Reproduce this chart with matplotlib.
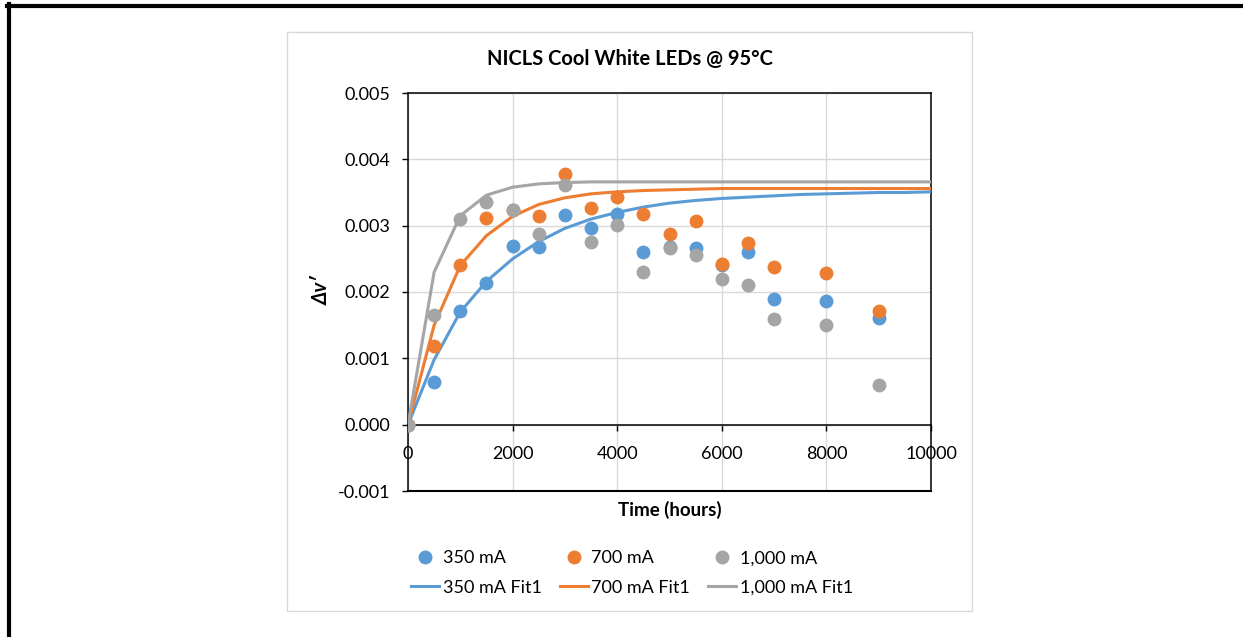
import matplotlib.pyplot as plt
from matplotlib.lines import Line2D
from matplotlib.patches import Rectangle

plt.rcParams['font.family'] = ['Lato', 'DejaVu Sans']
plt.rcParams['axes.unicode_minus'] = False

# measured data (hours, delta v')
hours = [0, 500, 1000, 1500, 2000, 2500, 3000, 3500, 4000, 4500,
         5000, 5500, 6000, 6500, 7000, 8000, 9000]
dv_350 = [0, 0.00064, 0.00171, 0.00213, 0.00270, 0.00268, 0.00316, 0.00297,
          0.00317, 0.00260, 0.00268, 0.00267, 0.00241, 0.00260, 0.00190,
          0.00186, 0.00161]
dv_700 = [0, 0.00119, 0.00241, 0.00312, 0.00323, 0.00314, 0.00378, 0.00327,
          0.00343, 0.00317, 0.00288, 0.00307, 0.00242, 0.00274, 0.00238,
          0.00228, 0.00171]
dv_1000 = [0, 0.00166, 0.00310, 0.00336, 0.00323, 0.00288, 0.00361, 0.00275,
           0.00301, 0.00230, 0.00266, 0.00256, 0.00220, 0.00210, 0.00159,
           0.00150, 0.00060]

# fitted curves
fit_hours = [0, 500, 1000, 1500, 2000, 2500, 3000, 3500, 4000, 4500, 5000,
             5500, 6000, 6500, 7000, 7500, 8000, 8500, 9000, 9500, 10000]
fit_350 = [0, 0.00098, 0.00170, 0.00216, 0.00250, 0.00276, 0.00296, 0.00310,
           0.00320, 0.00328, 0.00334, 0.00338, 0.00341, 0.00343, 0.00345,
           0.00347, 0.00348, 0.00349, 0.00350, 0.00350, 0.00351]
fit_700 = [0, 0.00150, 0.00240, 0.00285, 0.00314, 0.00332, 0.00342, 0.00348,
           0.00351, 0.00353, 0.00354, 0.00355, 0.00356, 0.00356, 0.00356,
           0.00356, 0.00356, 0.00356, 0.00356, 0.00356, 0.00356]
fit_1000 = [0, 0.00230, 0.00315, 0.00346, 0.00358, 0.00363, 0.00365, 0.00366,
            0.00366, 0.00366, 0.00366, 0.00366, 0.00366, 0.00366, 0.00366,
            0.00366, 0.00366, 0.00366, 0.00366, 0.00366, 0.00366]

labels = ['350 mA', '700 mA', '1,000 mA']
colors = ['#5B9BD5', '#ED7D31', '#A5A5A5']

W, H = 1243, 637
fig = plt.figure(figsize=(W / 100, H / 100), dpi=100)
ax = fig.add_axes([408 / W, 1 - 491 / H, (931 - 408) / W, (491 - 93) / H])

# outer frame (top and left only) and chart area border
fig.add_artist(Line2D([7 / W, 1], [1 - 6 / H, 1 - 6 / H], color='black', lw=3, transform=fig.transFigure))
fig.add_artist(Line2D([9 / W, 9 / W], [1 - 4 / H, 0], color='black', lw=3, transform=fig.transFigure))
fig.add_artist(Rectangle((287 / W, 1 - 611 / H), (972 - 287) / W, (611 - 32) / H,
                         fill=False, edgecolor='#D9D9D9', lw=1, transform=fig.transFigure))

handles = []
for dv, c, lab in zip([dv_350, dv_700, dv_1000], colors, labels):
    h, = ax.plot(hours, dv, 'o', color=c, markersize=10, markeredgewidth=0, label=lab, zorder=4)
    handles.append(h)
for fv, c, lab in zip([fit_350, fit_700, fit_1000], colors, labels):
    h, = ax.plot(fit_hours, fv, '-', color=c, lw=2.2, label=lab + ' Fit1', zorder=3)
    handles.append(h)

ax.set_xlim(0, 10000)
ax.set_ylim(-0.001, 0.005)
ax.set_xticks([0, 2000, 4000, 6000, 8000, 10000])
ax.set_yticks([-0.001, 0, 0.001, 0.002, 0.003, 0.004, 0.005])
ax.set_yticklabels(['%.3f' % v for v in ax.get_yticks()])
ax.grid(True, color='#D9D9D9', lw=1)
ax.set_axisbelow(True)

ax.spines['bottom'].set_position(('data', 0))
for s in ['left', 'right', 'top', 'bottom']:
    ax.spines[s].set_color('black')
    ax.spines[s].set_linewidth(1.1)
ax.axhline(-0.001, color='black', lw=1.5, clip_on=False, zorder=2)
ax.tick_params(axis='y', length=4.5, width=1, pad=8.5, labelsize=13, direction='out')
ax.tick_params(axis='x', length=4, width=1, pad=11.5, labelsize=13, direction='out')

fig.text(630 / W, 1 - 59 / H, 'NICLS Cool White LEDs @ 95°C', ha='center', va='center',
         fontsize=14.5, fontweight='bold')
fig.text(670 / W, 1 - 510 / H, 'Time (hours)', ha='center', va='center',
         fontsize=13.5, fontweight='bold')
fig.text(322 / W, 1 - 290 / H, 'Δv′', ha='center', va='center', rotation=90,
         fontsize=14.5, fontweight='bold', fontstyle='italic')

order = [handles[0], handles[3], handles[1], handles[4], handles[2], handles[5]]
fig.legend(order, [h.get_label() for h in order], ncol=3, loc='center',
           bbox_to_anchor=(632 / W, 1 - 573 / H), frameon=False, fontsize=13,
           numpoints=1, handlelength=1.55, handletextpad=0.22, columnspacing=1.0,
           labelspacing=0.75)

fig.savefig('out.png', dpi=100)
